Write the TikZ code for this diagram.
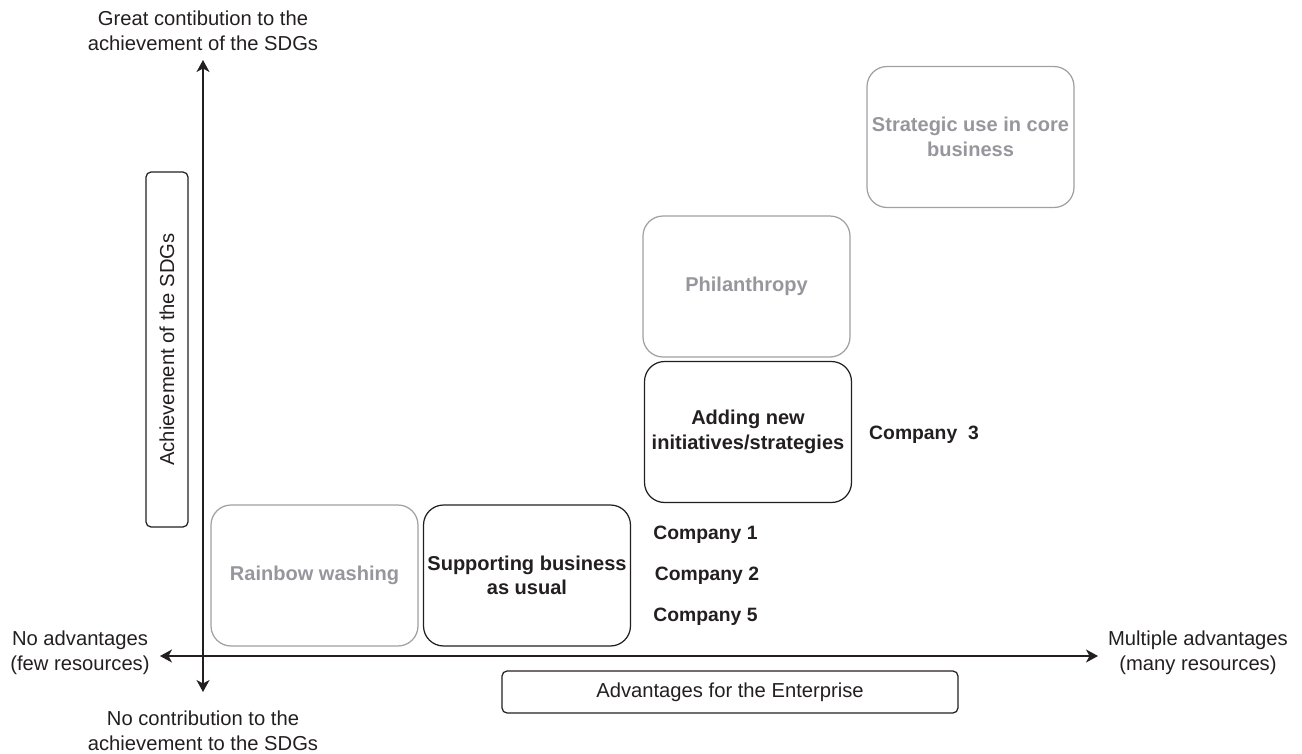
\documentclass[tikz,border=0pt]{standalone}
\usepackage{fontspec}
\setmainfont{Liberation Sans}
\usepackage{xcolor}
\definecolor{ColText}{RGB}{35,31,32}
\definecolor{ColGrey}{RGB}{150,150,156}
\definecolor{ColGreyLine}{RGB}{160,160,165}
\usetikzlibrary{arrows.meta}
\tikzstyle{Axis}=[draw=ColText,line width=0.8pt,
    -{Stealth[length=2.4mm,width=2.6mm,inset=0.7mm]}]
\tikzstyle{Label}=[font=\fontsize{11.5}{14}\selectfont,text=ColText,
    align=center,inner sep=0pt]
\tikzstyle{Level}=[rounded corners=0.4cm,draw=ColText,line width=0.7pt,
    minimum width=4.14cm,minimum height=2.82cm,align=center,inner sep=1pt,
    font=\bfseries\fontsize{11.4}{14}\selectfont,text=ColText]
\tikzstyle{LevelOff}=[Level,draw=ColGreyLine,text=ColGrey]
\tikzstyle{AxisTitle}=[rounded corners=0.1cm,draw=ColText,line width=0.7pt,
    minimum height=0.84cm,font=\fontsize{11.5}{14}\selectfont,text=ColText]
\tikzstyle{Company}=[font=\bfseries\fontsize{11}{14}\selectfont,
    text=ColText,inner sep=0pt]

\begin{document}
\begin{tikzpicture}[x=0.02cm,y=-0.02cm]
            \useasboundingbox(0,0)rectangle(1302,754);
            \coordinate(yTop)at(203,60);
            \coordinate(yBot)at(203,692);
            \coordinate(xLeft)at(160,656);
            \coordinate(xRight)at(1098,656);
            \coordinate(o)at(203,656);
            \node[Label](great)at(203,31)
                {Great contibution to the\\achievement of the SDGs};
            \node[Label](none)at(203,731)
                {No contribution to the\\achievement to the SDGs};
            \node[Label](few)at(80,653)
                {No advantages\\(few resources)};
            \node[Label](many)at(1198,653)
                {Multiple advantages\\(many resources)};
            \draw[Axis](o)--(yTop);
            \draw[Axis](o)--(yBot);
            \draw[Axis](o)--(xLeft);
            \draw[Axis](o)--(xRight);
            %
            \node[AxisTitle,rotate=90,minimum width=7.1cm](sdg)at(167,349.5)
                {Achievement of the SDGs};
            \node[AxisTitle,minimum width=9.12cm](adv)at(730,692)
                {Advantages for the Enterprise};
            %
            \node[LevelOff](rainbow)at(314.5,575.5){Rainbow washing};
            \node[Level](usual)at(527,575.5)
                {Supporting business\\as usual};
            \node[Level](adding)at(748,432)
                {Adding new\\initiatives/strategies};
            \node[LevelOff](phil)at(746.5,286.5){Philanthropy};
            \node[LevelOff](core)at(970.5,137)
                {Strategic use in core\\business};
            %
            \node[Company](c1)at(705.5,535){Company 1};
            \node[Company](c2)at(707,576){Company 2};
            \node[Company](c5)at(705.5,617){Company 5};
            \node[Company](c3)at(924,435){Company~~3};
        \end{tikzpicture}
\end{document}
